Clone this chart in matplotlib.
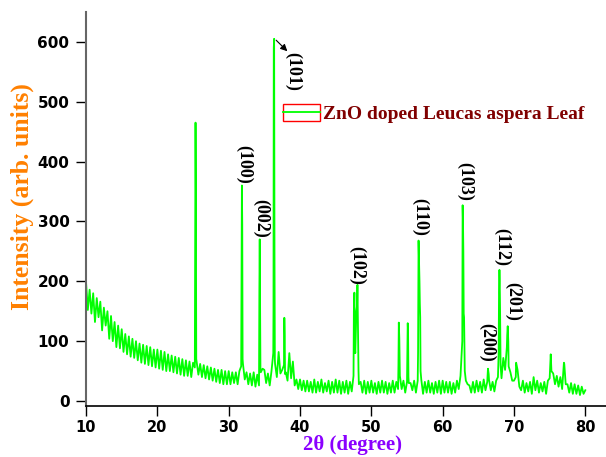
import numpy as np
import matplotlib.pyplot as plt
from matplotlib.legend_handler import HandlerLine2D
from matplotlib.patches import Rectangle

plt.rcParams.update({
    "font.family": "DejaVu Sans",
    "font.weight": "bold",
    "xtick.direction": "out",
    "ytick.direction": "out",
})

bg_start, bg_step = 10.0, 0.25
bg_y = [
    198, 152, 186, 146,  180, 132, 172, 140,  166, 118, 156, 126,   # 10-12
    150, 104, 142, 100,  132, 90, 126, 88,  120, 82, 112, 78,       # 13-15
    108, 74, 104, 72,  100, 68, 96, 64,  94, 62, 92, 60,            # 16-18
    90, 58, 86, 56,  86, 54, 84, 52,  82, 50, 78, 50,               # 19-21
    76, 48, 74, 46,  72, 44, 70, 42,  68, 42, 66, 40,               # 22-24
    64, 56, 66, 44,  62, 40, 60, 38,  58, 36, 56, 34,               # 25-27
    54, 32, 52, 30,  52, 28, 50, 28,  50, 28, 48, 30,               # 28-30
    48, 28, 50, 58,  62, 36, 48, 28,  46, 26, 48, 24,               # 31-33
    44, 26, 48, 54,  52, 30, 46, 26,  50, 80, 62, 40,               # 34-36
    82, 46, 52, 60,  48, 34, 80, 38,  66, 26, 36, 20,               # 37-39
    36, 18, 34, 16,  34, 16, 32, 14,  36, 14, 32, 16,               # 40-42
    36, 14, 30, 16,  34, 12, 32, 14,  36, 14, 34, 12,               # 43-45
    32, 14, 34, 12,  32, 16, 42, 80,  160, 28, 32, 14,              # 46-48
    34, 12, 32, 14,  34, 14, 30, 12,  32, 14, 34, 14,               # 49-51
    32, 12, 30, 14,  34, 14, 32, 20,  42, 20, 34, 14,               # 52-54
    32, 30, 30, 18,  34, 14, 34, 200,  36, 12, 32, 14,              # 55-57
    34, 14, 30, 12,  32, 14, 34, 12,  34, 14, 32, 14,               # 58-60
    32, 12, 30, 14,  34, 20, 42, 100,  140, 34, 28, 26,             # 61-63
    14, 32, 14, 34,  16, 32, 14, 36,  18, 32, 35, 18,               # 64-66
    32, 16, 34, 40,  200, 38, 72, 52,  90, 58, 48, 34,              # 67-69
    34, 40, 52, 24,  18, 34, 14, 30,  16, 32, 12, 40,               # 70-72
    18, 34, 14, 30,  16, 32, 12, 34,  38, 50, 46, 28,               # 73-75
    42, 24, 40, 20,  64, 28, 28, 14,  30, 12, 28, 12,               # 76-78
    26, 10, 24, 12,  18,                                            # 79-80
]

# sharp diffraction peaks (points placed between background samples)
pk_x = [25.30, 25.35, 25.40, 25.45,
        31.80, 31.85, 31.90, 31.95,
        34.30, 34.35, 34.40, 34.45,
        36.28, 36.32, 36.37, 36.42, 36.47,
        37.80, 37.85, 37.90,
        47.55, 47.62, 47.70, 47.90, 48.05, 48.12, 48.20,
        53.80, 53.85, 53.92,
        55.05, 55.10, 55.15, 55.20,
        56.55, 56.62, 56.70, 56.80, 56.85, 56.90,
        62.80, 62.85, 62.90, 62.95, 63.10,
        66.35, 66.45,
        67.85, 67.90, 67.96, 68.05, 68.12,
        69.05, 69.12, 69.20,
        70.30, 75.15, 75.20, 77.05]
pk_y = [250, 465, 350, 70,
        210, 360, 295, 70,
        185, 270, 170, 55,
        150, 590, 605, 250, 70,
        139, 110, 45,
        150, 181, 90, 150, 194, 130, 50,
        60, 131, 105,
        80, 130, 115, 40,
        80, 268, 230, 162, 140, 50,
        327, 300, 250, 146, 50,
        54, 45,
        80, 180, 219, 150, 60,
        110, 125, 100,
        64, 78, 65, 62]

labels = ['(101)', '(100)', '(002)', '(110)', '(103)',
          '(102)', '(112)', '(201)', '(200)']
label_x = [39.0, 32.15, 34.55, 56.85, 63.15, 48.0, 68.35, 69.9, 66.25]
label_y = [551, 395, 305, 307, 367, 227, 258, 166, 98]

bg_x = bg_start + bg_step * np.arange(len(bg_y))
x = np.concatenate([bg_x, pk_x])
y = np.concatenate([bg_y, pk_y])
order = np.argsort(x)
x, y = x[order], y[order]


class BoxedLine(HandlerLine2D):
    def create_artists(self, legend, orig_handle, xdescent, ydescent,
                       width, height, fontsize, trans):
        arts = super().create_artists(legend, orig_handle, xdescent, ydescent,
                                      width, height, fontsize, trans)
        box = Rectangle((-xdescent, -ydescent), width, height, fill=False,
                        edgecolor='red', lw=1.0, transform=trans)
        return [box] + list(arts)


fig = plt.figure(figsize=(6.06, 4.57), dpi=100)
ax = fig.add_axes([0.142, 0.112, 0.858, 0.862])

line, = ax.plot(x, y, color='#00ff00', lw=1.3, label='ZnO doped Leucas aspera Leaf')

for t, lx, ly in zip(labels, label_x, label_y):
    ax.text(lx, ly, t, rotation=-90, ha='center', va='center',
            family='Liberation Serif', fontsize=13, fontweight='bold')

ax.annotate('', xy=(38.5, 581), xytext=(36.37, 606),
            arrowprops=dict(arrowstyle='-|>', color='k', lw=0.8, mutation_scale=10))

ax.set_xlim(10, 82.9)
ax.set_ylim(-8, 650)
ax.set_xticks(np.arange(10, 81, 10))
ax.set_yticks(np.arange(0, 601, 100))
ax.tick_params(labelsize=11, length=7, width=1)
ax.tick_params(axis='x', labelsize=10.5, pad=3.5)
ax.tick_params(axis='y', pad=5)

ax.spines['top'].set_visible(False)
ax.spines['right'].set_visible(False)
ax.spines['left'].set_color('#666666')
ax.spines['left'].set_linewidth(1.5)
ax.spines['bottom'].set_linewidth(1.2)

ax.set_xlabel('2θ (degree)', family='Liberation Serif', fontsize=15,
              fontweight='bold', color='#8a00ff')
ax.set_ylabel('Intensity (arb. units)', family='Liberation Serif', fontsize=18.5,
              fontweight='bold', color='#ff8000')
ax.xaxis.set_label_coords(0.512, -0.075)
ax.yaxis.set_label_coords(-0.100, 0.53)

leg = ax.legend(handles=[line], handler_map={line: BoxedLine()},
                loc='upper left', bbox_to_anchor=(283 / 606, 1 - 104 / 457),
                bbox_transform=fig.transFigure, frameon=False,
                borderpad=0, borderaxespad=0, handlelength=1.9, handleheight=0.95,
                handletextpad=0.15,
                prop={'family': 'Liberation Serif', 'weight': 'bold', 'size': 14})
for txt in leg.get_texts():
    txt.set_color('#800000')

fig.savefig('out.png', dpi=100)
